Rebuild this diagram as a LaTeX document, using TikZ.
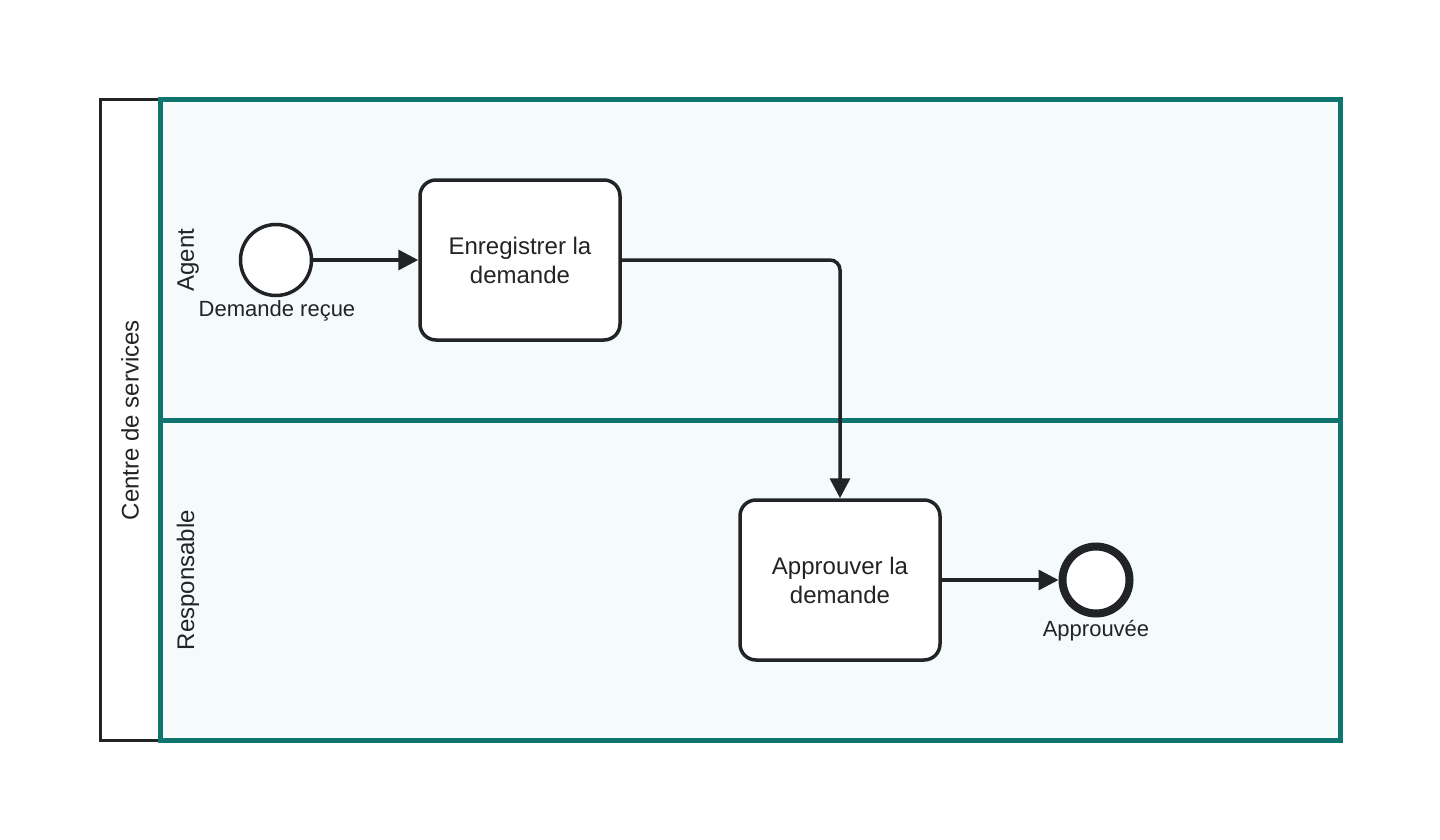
\documentclass[tikz,border=0pt]{standalone}
\usepackage{fontspec}
\setmainfont{Liberation Sans}
\usetikzlibrary{arrows.meta}

\definecolor{ink}{HTML}{222326}
\definecolor{lanecol}{HTML}{0F7470}
\definecolor{lanefill}{HTML}{F5FBFB}

\begin{document}
\begin{tikzpicture}[x=1pt, y=-1pt, >={Triangle[length=20pt,width=20pt]}, ink,
  pool/.style={rectangle, draw=ink, line width=3pt, fill=white, minimum width=60pt, minimum height=640pt},
  lane/.style={rectangle, draw=lanecol, line width=5pt, fill=lanefill, minimum width=1180pt, minimum height=320pt},
  lanelabel/.style={rotate=90, font=\fontsize{24}{28}\selectfont, text=ink},
  event/.style={circle, draw=ink, line width=3.5pt, fill=white, minimum size=71pt, inner sep=0pt},
  endevent/.style={event, line width=8pt, minimum size=67pt},
  task/.style={rectangle, rounded corners=16pt, draw=ink, line width=3.5pt, fill=white,
    minimum width=200pt, minimum height=160pt, align=center, font=\fontsize{24}{29}\selectfont, text=ink},
  evlabel/.style={font=\fontsize{22}{26}\selectfont, text=ink},
  flow/.style={->, draw=ink, line width=3.5pt}]

  \useasboundingbox (0,0) rectangle (1440,840);

  % pool and lanes
  \node[pool] (pool) at (130,420) {};
  \node[lanelabel] at (pool.center) {Centre de services};
  \node[lane] (agent) at (750,260) {};
  \node[lane] (resp) at (750,580) {};
  \node[lanelabel] at (188,260) {Agent};
  \node[lanelabel] at (188,580) {Responsable};

  % events and tasks
  \node[event] (start) at (276,260) {};
  \node[evlabel] (startlbl) at (277,311) {Demande reçue};
  \node[task] (enreg) at (520,260) {Enregistrer la\\demande};
  \node[task] (approuv) at (840,580) {Approuver la\\demande};
  \node[endevent] (fin) at (1096,580) {};
  \node[evlabel] (finlbl) at (1096,631) {Approuvée};

  % sequence flows
  \draw[flow] (start) -- (enreg);
  \draw[flow, rounded corners=10pt] (enreg.east) -| (approuv.north);
  \draw[flow] (approuv) -- (fin);

\end{tikzpicture}
\end{document}
